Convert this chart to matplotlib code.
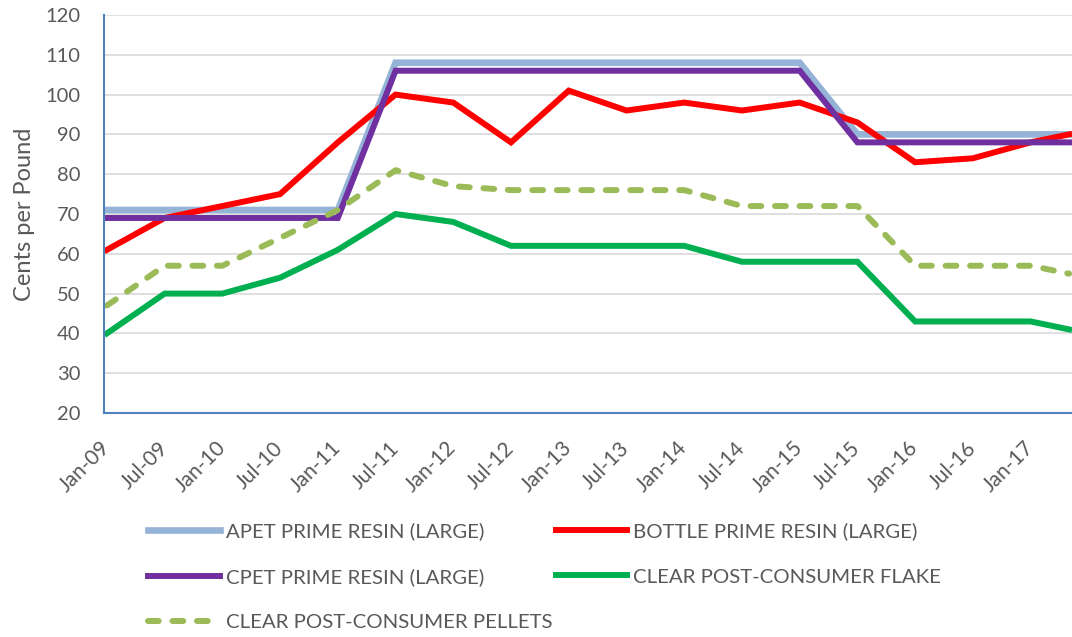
import matplotlib
matplotlib.use("Agg")
import matplotlib.pyplot as plt

plt.rcParams['font.family'] = ['Lato', 'DejaVu Sans']

# month index from Jan-09 (0) ; last observation ~May-17
months = [0, 6, 12, 18, 24, 30, 36, 42, 48, 54, 60, 66, 72, 78, 84, 90, 96, 100]
tick_pos = [0, 6, 12, 18, 24, 30, 36, 42, 48, 54, 60, 66, 72, 78, 84, 90, 96]
tick_labels = ["Jan-09", "Jul-09", "Jan-10", "Jul-10", "Jan-11", "Jul-11", "Jan-12",
               "Jul-12", "Jan-13", "Jul-13", "Jan-14", "Jul-14", "Jan-15", "Jul-15",
               "Jan-16", "Jul-16", "Jan-17"]

apet = [71, 71, 71, 71, 71, 108, 108, 108, 108, 108, 108, 108, 108, 90, 90, 90, 90, 90]
bottle = [61, 69, 72, 75, 88, 100, 98, 88, 101, 96, 98, 96, 98, 93, 83, 84, 88, 90]
cpet = [69, 69, 69, 69, 69, 106, 106, 106, 106, 106, 106, 106, 106, 88, 88, 88, 88, 88]
flake = [40, 50, 50, 54, 61, 70, 68, 62, 62, 62, 62, 58, 58, 58, 43, 43, 43, 41]
pellets = [47, 57, 57, 64, 71, 81, 77, 76, 76, 76, 76, 72, 72, 72, 57, 57, 57, 55]

labels = ["APET PRIME RESIN (LARGE)", "BOTTLE PRIME RESIN (LARGE)",
          "CPET PRIME RESIN (LARGE)", "CLEAR POST-CONSUMER FLAKE",
          "CLEAR POST-CONSUMER PELLETS"]

fig = plt.figure(figsize=(10.72, 6.37), dpi=100)
ax = fig.add_axes([104/1072, 1 - 413/637, 1 - 104/1072, (413 - 15)/637])

lw = 4.3
h_apet, = ax.plot(months, apet, color="#95B3D7", lw=4.8, label=labels[0], solid_joinstyle='miter')
h_bottle, = ax.plot(months, bottle, color="#FF0000", lw=lw, label=labels[1], solid_joinstyle='miter')
h_cpet, = ax.plot(months, cpet, color="#7030A0", lw=lw, label=labels[2], solid_joinstyle='miter')
h_flake, = ax.plot(months, flake, color="#00B050", lw=lw, label=labels[3], solid_joinstyle='miter')
h_pel, = ax.plot(months, pellets, color="#9BBB59", lw=lw, label=labels[4],
                 linestyle=(0, (1.8, 2.3)), dash_capstyle='round')

ax.set_xlim(-0.3, 100.3)
ax.set_ylim(20, 120)
ax.set_yticks(range(20, 121, 10))
ax.set_xticks(tick_pos)
ax.set_xticklabels(tick_labels, rotation=45, ha='right', va='center', rotation_mode='anchor')
ax.tick_params(axis='both', length=0, labelcolor="#595959")
ax.tick_params(axis='y', labelsize=14.5, pad=17)
ax.tick_params(axis='x', labelsize=15, pad=23)
ax.grid(axis='y', color="#D9D9D9", lw=1.2)
ax.set_axisbelow(True)
for s in ['top', 'right']:
    ax.spines[s].set_visible(False)
for s in ['left', 'bottom']:
    ax.spines[s].set_color("#4F81BD")
    ax.spines[s].set_linewidth(1.5)
ax.set_ylabel("Cents per Pound", fontsize=17, color="#595959")
ax.yaxis.set_label_coords(-0.0713, 0.5)

handles = [h_apet, h_cpet, h_pel, h_bottle, h_flake]
fig.legend(handles=handles, labels=[h.get_label() for h in handles],
           loc='upper left', bbox_to_anchor=(130/1072, 1 - 504/637), ncol=2,
           frameon=False, fontsize=14.7, labelcolor="#595959",
           handlelength=3.5, handletextpad=0.3, columnspacing=0.15, labelspacing=1.37)

fig.savefig("out.png", dpi=100)
